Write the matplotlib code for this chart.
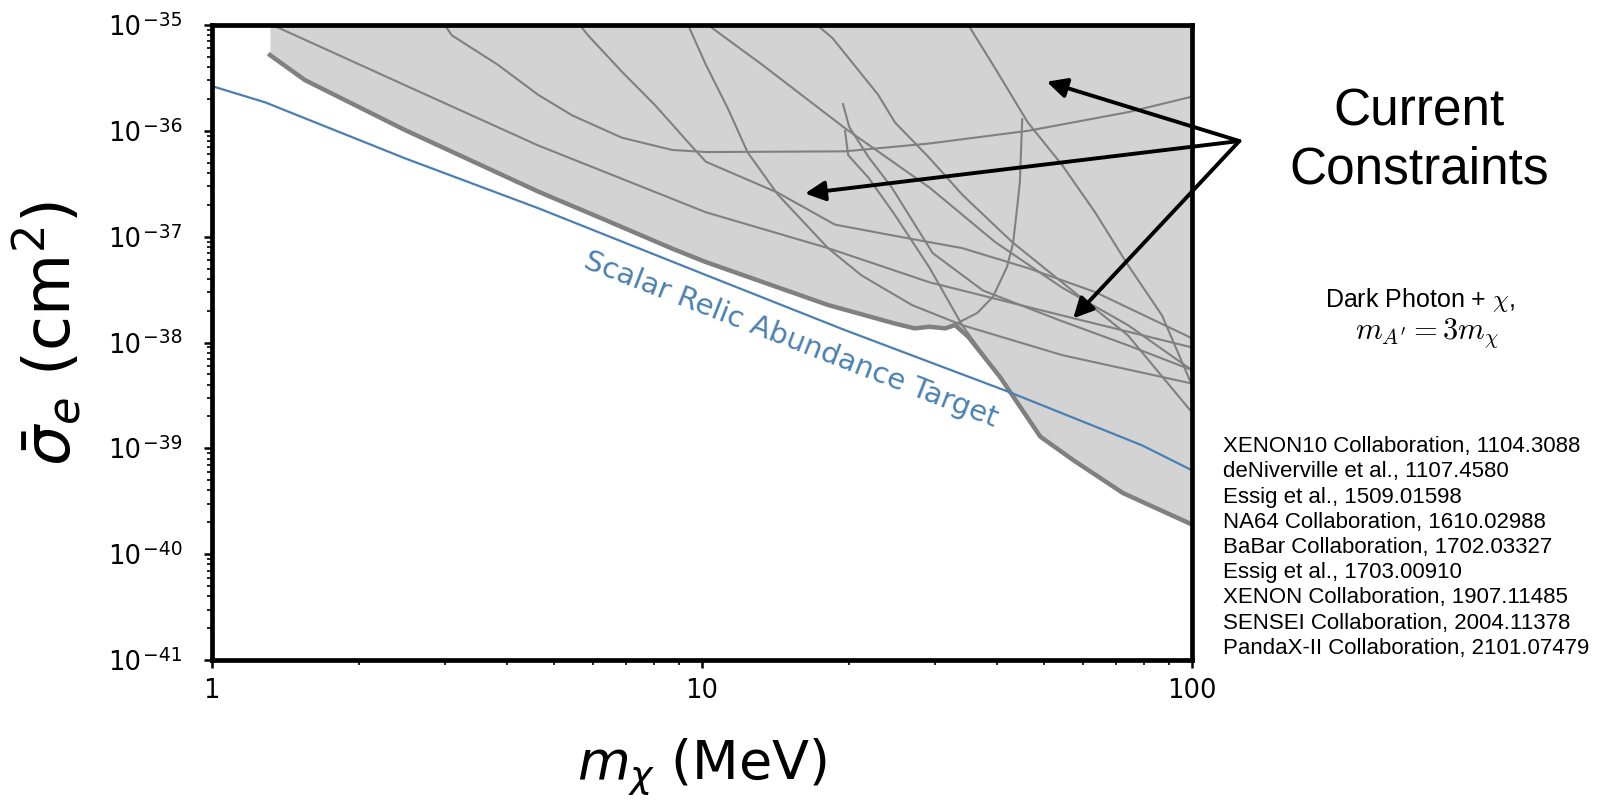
import matplotlib
matplotlib.use("Agg")
import matplotlib.pyplot as plt
from matplotlib.ticker import LogLocator, NullFormatter

# ---------------- data (m_chi in MeV, sigma_e in cm^2) ----------------
relic_m = [1.0, 1.285, 2.48, 4.65, 10.2, 19.6, 42.3, 79.1, 100]
relic_s = [2.65e-36, 1.86e-36, 5.50e-37, 1.85e-37, 4.34e-38, 1.31e-38, 3.42e-39, 1.07e-39, 6.22e-40]

env_m = [1.315, 1.549, 2.477, 4.645, 6.353, 8.690, 10.16, 18.11, 24.8, 27.2, 29.2,
         31.4, 32.9, 35.0, 40.6, 49.1, 57.3, 72.4, 100]
env_s = [5.20e-36, 3.02e-36, 1.02e-36, 2.66e-37, 1.44e-37, 7.74e-38, 5.79e-38, 2.26e-38,
         1.51e-38, 1.36e-38, 1.41e-38, 1.36e-38, 1.46e-38, 1.13e-38, 4.74e-39, 1.29e-39,
         7.74e-40, 3.78e-40, 1.91e-40]

line_a_m = [1.33, 2.48, 4.63, 10.2, 18.1, 29.2, 54.4, 100]
line_a_s = [1e-35, 2.7e-36, 7.3e-37, 1.7e-37, 7.8e-38, 3.7e-38, 1.8e-38, 9.0e-39]

line_b_m = [2.99, 3.09, 3.84, 4.63, 5.44, 6.88, 8.70, 10.2, 19.6, 29.2, 46.3, 74.1, 100]
line_b_s = [1e-35, 8.0e-36, 4.2e-36, 2.2e-36, 1.4e-36, 8.6e-37, 6.6e-37, 6.3e-37, 6.4e-37,
            7.6e-37, 1.0e-36, 1.5e-36, 2.1e-36]

line_c_m = [5.64, 5.86, 6.88, 8.03, 9.38, 10.2, 14.3, 18.7, 25.6, 34.0, 46.3, 63.5, 100]
line_c_s = [1e-35, 8.0e-36, 3.6e-36, 1.75e-36, 7.8e-37, 5.1e-37, 2.6e-37, 1.3e-37, 9.9e-38,
            7.8e-38, 5.05e-38, 3.0e-38, 1.1e-38]

line_d_m = [9.38, 10.2, 11.3, 12.4, 14.3, 18.1, 21.2, 26.9, 34.0, 54.4, 100]
line_d_s = [1e-35, 4.2e-36, 1.64e-36, 6.3e-37, 2.5e-37, 7.8e-38, 4.3e-38, 2.25e-38,
            1.46e-38, 7.6e-39, 4.1e-39]

line_e_m = [10.3, 13.3, 19.6, 29.2, 39.7, 54.4, 74.1, 100]
line_e_s = [1e-35, 4.2e-36, 1.06e-36, 2.9e-37, 8.9e-38, 3.3e-38, 1.46e-38, 5.5e-39]

line_f_m = [17.2, 18.5, 22.9, 24.8, 29.2, 34.0, 43.0, 54.4, 74.1, 100]
line_f_s = [1e-35, 7.5e-36, 2.2e-36, 1.2e-36, 5.5e-37, 2.5e-37, 8.9e-38, 3.7e-38, 1.17e-38, 2.2e-39]

line_g_m = [35.0, 39.7, 46.3, 54.4, 63.5, 74.1, 87.0, 100]
line_g_s = [1e-35, 3.9e-36, 1.2e-36, 4.75e-37, 1.7e-37, 5.4e-38, 1.8e-38, 4.0e-39]

line_h_m = [19.4, 20.0, 21.9, 24.4, 29.6, 37.5, 53.6, 74.1, 100]
line_h_s = [1.83e-36, 1.09e-36, 5.65e-37, 2.94e-37, 7.0e-38, 3.1e-38, 1.63e-38, 9.4e-39, 5.5e-39]

line_i_m = [19.6, 19.9, 21.9, 24.8, 29.2, 34.0, 40.6, 49.0, 57.3, 72.4, 100]
line_i_s = [1.02e-36, 5.9e-37, 3.6e-37, 1.6e-37, 5.05e-38, 1.46e-38, 4.7e-39, 1.28e-39,
            7.7e-40, 3.8e-40, 1.96e-40]

line_u_m = [45.1, 44.6, 44.2, 43.2, 42.0, 39.3, 36.5, 33.2, 31.4, 27.2]
line_u_s = [1.32e-36, 3.3e-37, 2.2e-37, 8.7e-38, 5.2e-38, 2.7e-38, 1.9e-38, 1.52e-38,
            1.37e-38, 1.37e-38]

x_ticks = [1, 10, 100]
x_tick_labels = ["1", "10", "100"]
y_decades = [-41, -40, -39, -38, -37, -36, -35]

references = [
    "XENON10 Collaboration, 1104.3088",
    "deNiverville et al., 1107.4580",
    "Essig et al., 1509.01598",
    "NA64 Collaboration, 1610.02988",
    "BaBar Collaboration, 1702.03327",
    "Essig et al., 1703.00910",
    "XENON Collaboration, 1907.11485",
    "SENSEI Collaboration, 2004.11378",
    "PandaX-II Collaboration, 2101.07479",
]

arrow_tail = (125.1, 8.01e-37)
arrow_heads = [(50.6, 2.91e-36), (16.25, 2.56e-37), (57.3, 1.69e-38)]

# ---------------- figure ----------------
W, H = 1623, 800
fig = plt.figure(figsize=(W / 100, H / 100), dpi=100)
ax = fig.add_axes([211.7 / W, 1 - 660 / H, (1191.7 - 211.7) / W, (660 - 25) / H])
ax.set_xscale("log")
ax.set_yscale("log")
ax.set_xlim(1, 100)
ax.set_ylim(1e-41, 1e-35)

gray = "#808080"
ax.fill_between(env_m, env_s, 1e-35, color="#d3d3d3", lw=0, zorder=1)

thin = [(line_a_m, line_a_s), (line_b_m, line_b_s), (line_c_m, line_c_s),
        (line_d_m, line_d_s), (line_e_m, line_e_s), (line_f_m, line_f_s),
        (line_g_m, line_g_s), (line_h_m, line_h_s), (line_i_m, line_i_s),
        (line_u_m, line_u_s)]
for mm, ss in thin:
    ax.plot(mm, ss, color=gray, lw=1.5, zorder=2, solid_capstyle="butt")
ax.plot(env_m, env_s, color=gray, lw=3.2, zorder=3)

blue = "#4a80b0"
ax.plot(relic_m, relic_s, color=blue, lw=1.6, zorder=4)
ax.text(15.0, 9.1e-39, "Scalar Relic Abundance Target", color=blue, fontsize=21,
        rotation=-21.2, rotation_mode="anchor", ha="center", va="baseline", zorder=5)

for xy in arrow_heads:
    ax.annotate("", xy=xy, xytext=arrow_tail,
                arrowprops=dict(arrowstyle="-|>", color="k", lw=2.8,
                                mutation_scale=30, shrinkA=0, shrinkB=0),
                annotation_clip=False, zorder=10)

for sp in ax.spines.values():
    sp.set_linewidth(3.4)
    sp.set_zorder(6)

ax.set_xticks(x_ticks)
ax.set_xticklabels(x_tick_labels)
ax.xaxis.set_minor_locator(LogLocator(base=10, subs=range(2, 10)))
ax.xaxis.set_minor_formatter(NullFormatter())
ax.yaxis.set_major_locator(LogLocator(base=10, numticks=20))
ax.yaxis.set_major_formatter(NullFormatter())
ax.yaxis.set_minor_locator(LogLocator(base=10, subs=range(2, 10), numticks=20))
ax.yaxis.set_minor_formatter(NullFormatter())
ax.tick_params(which="major", direction="out", length=6, width=1.8, labelsize=18.5, pad=7)
ax.tick_params(which="minor", direction="out", length=3.5, width=1.2)

# y tick labels: "10" with a compact superscript exponent
ytr = ax.get_yaxis_transform()
for k in y_decades:
    ax.annotate("10", xy=(0, 10.0 ** k), xycoords=ytr, xytext=(-50.5, -7.2),
                textcoords="offset points", ha="right", va="baseline",
                fontsize=18.5, annotation_clip=False)
    ax.annotate("\u2212%d" % abs(k), xy=(0, 10.0 ** k), xycoords=ytr, xytext=(-49.5, -0.6),
                textcoords="offset points", ha="left", va="baseline",
                fontsize=13.5, annotation_clip=False)

ax.set_xlabel(r"$m_\chi$ (MeV)", fontsize=39)
ax.xaxis.set_label_coords(0.5, -0.122)
ax.set_ylabel(r"$\bar{\sigma}_e$ (cm$^2$)", fontsize=46)
ax.yaxis.set_label_coords(-0.131, 0.515)

sans = ["Liberation Sans", "DejaVu Sans"]
fig.text(1419.4 / W, 1 - 112.5 / H, "Current", fontsize=37, family=sans,
         ha="center", va="center")
fig.text(1419.4 / W, 1 - 170 / H, "Constraints", fontsize=37, family=sans,
         ha="center", va="center")
fig.text(1420 / W, 1 - 300 / H, r"Dark Photon + $\chi$,", fontsize=18, family=sans,
         math_fontfamily="cm", ha="center", va="center")
fig.text(1427 / W, 1 - 333 / H, r"$m_{A'} = 3m_\chi$", fontsize=22,
         math_fontfamily="cm", ha="center", va="center")
for i, r in enumerate(references):
    fig.text(1223 / W, 1 - (446.7 + 25.2 * i) / H, r, fontsize=16, family=sans,
             ha="left", va="center")

fig.savefig("out.png", dpi=100)
